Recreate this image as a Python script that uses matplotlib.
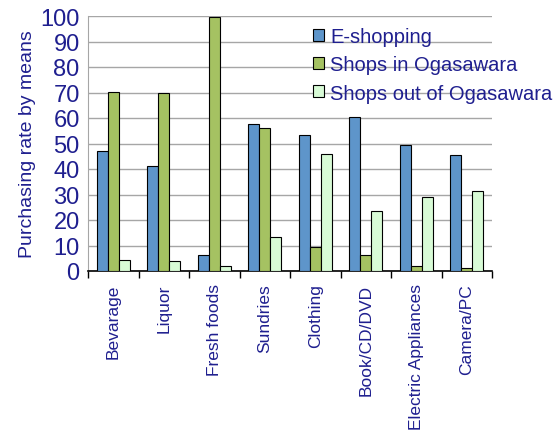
import numpy as np
import matplotlib
matplotlib.use("Agg")
import matplotlib.pyplot as plt

plt.rcParams['font.family'] = ['Liberation Sans', 'DejaVu Sans']

# Purchasing rate (%) by category and means of purchase
categories = ["Bevarage", "Liquor", "Fresh foods", "Sundries", "Clothing",
              "Book/CD/DVD", "Electric Appliances", "Camera/PC"]
e_shopping = [47.1, 41.3, 6.1, 57.8, 53.3, 60.5, 49.4, 45.4]
shops_in = [70.2, 69.8, 99.7, 56.1, 9.3, 6.1, 2.1, 1.2]
shops_out = [4.3, 3.8, 2.1, 13.2, 45.9, 23.5, 28.9, 31.5]

series_names = ["E-shopping", "Shops in Ogasawara", "Shops out of Ogasawara"]
colors = ["#5E95CA", "#A5C262", "#D8FBD6"]
navy = "#1F1F8F"

fig = plt.figure(figsize=(5.57, 4.35), dpi=100)
ax = fig.add_axes([88 / 557, 1 - 272 / 435, 404 / 557, 255 / 435])

x = np.arange(len(categories))
w = 0.22
for i, (vals, name, c) in enumerate(zip([e_shopping, shops_in, shops_out], series_names, colors)):
    ax.bar(x + (i - 1) * w, vals, w, color=c, edgecolor="black", linewidth=0.8,
           label=name, zorder=3)

ax.set_xlim(-0.5, len(categories) - 0.5)
ax.set_ylim(0, 100)
ax.set_yticks(range(0, 101, 10))
ax.yaxis.grid(True, color="#A6A6A6", linewidth=1.0, zorder=0)
ax.tick_params(axis="y", length=0, labelsize=17, labelcolor=navy, pad=6)

# category labels centred, tick marks on the group boundaries
ax.set_xticks(x)
ax.set_xticklabels(categories, rotation=90, fontsize=12.5, color=navy)
ax.tick_params(axis="x", which="major", length=0, pad=9)
ax.set_xticks(np.arange(-0.5, len(categories)), minor=True)
ax.tick_params(axis="x", which="minor", length=5, width=1, color="black", direction="out")

for side in ["top", "right"]:
    ax.spines[side].set_visible(False)
ax.spines["left"].set_color("#A6A6A6")
ax.spines["bottom"].set_color("black")
ax.spines["bottom"].set_linewidth(1.2)

ax.set_ylabel("Purchasing rate by means", fontsize=14, color=navy, labelpad=3)

leg = ax.legend(loc="upper left", bbox_to_anchor=(313 / 557, 1 - 28 / 435),
                bbox_transform=fig.transFigure, frameon=False, fontsize=14.5,
                handlelength=0.55, handleheight=0.55, handletextpad=0.3,
                labelspacing=0.46, borderaxespad=0, borderpad=0)
for t in leg.get_texts():
    t.set_color(navy)

fig.savefig("out.png", dpi=100)
